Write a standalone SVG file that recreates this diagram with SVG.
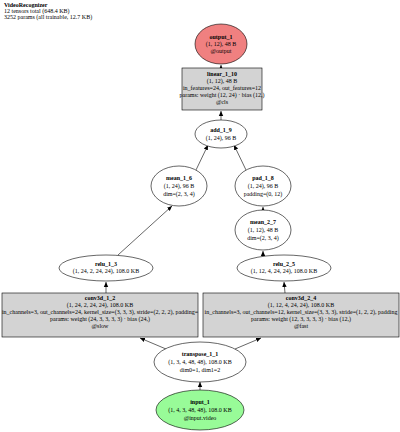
<svg xmlns="http://www.w3.org/2000/svg" width="400" height="432" viewBox="0 0 400 432">
<defs>
<marker id="ah" markerWidth="6" markerHeight="6" refX="5" refY="3" orient="auto" markerUnits="userSpaceOnUse">
<path d="M0,0.8 L5,3 L0,5.2 Z" fill="#000"/>
</marker>
<style>
text{font-family:"Liberation Serif","Times New Roman",serif;font-size:6px;fill:#000;text-anchor:middle}
.b{font-weight:bold}
.hd{text-anchor:start}
.el{fill:#fff;stroke:#000;stroke-width:0.6}
.bx{fill:#d3d3d3;stroke:#000;stroke-width:0.6}
.e{stroke:#000;stroke-width:0.6;fill:none;marker-end:url(#ah)}
</style>
</defs>
<rect width="400" height="432" fill="#fff"/>
<g id="header">
<text class="hd b" x="4" y="7">VideoRecognizer</text>
<text class="hd" x="4" y="13">12 tensors total (648.4 KB)</text>
<text class="hd" x="4" y="19">3252 params (all trainable, 12.7 KB)</text>
</g>
<g id="edges">
<line class="e" x1="200" y1="390" x2="200" y2="382"/>
<line class="e" x1="166" y1="349" x2="140" y2="338"/>
<line class="e" x1="235" y1="349" x2="261" y2="338"/>
<line class="e" x1="106" y1="293" x2="106" y2="282"/>
<line class="e" x1="285" y1="293" x2="284" y2="282"/>
<line class="e" x1="118" y1="255" x2="172" y2="206"/>
<line class="e" x1="263" y1="255" x2="263" y2="251"/>
<line class="e" x1="263" y1="210" x2="263" y2="207"/>
<line class="e" x1="196" y1="170" x2="208" y2="145"/>
<line class="e" x1="246" y1="170" x2="234" y2="145"/>
<line class="e" x1="221" y1="120" x2="221" y2="111"/>
<line class="e" x1="221" y1="68" x2="221" y2="65"/>
</g>
<g id="output_1">
<ellipse cx="221" cy="44" rx="26" ry="20" fill="#f08080" stroke="#000" stroke-width="0.6"/>
<text class="b" x="221" y="39">output_1</text>
<text x="221" y="46">(1, 12), 48 B</text>
<text x="221" y="53">@output</text>
</g>
<g id="linear_1_10">
<rect class="bx" x="182" y="68" width="80" height="42"/>
<text class="b" x="222" y="76">linear_1_10</text>
<text x="222" y="83">(1, 12), 48 B</text>
<text x="222" y="90">in_features=24, out_features=12</text>
<text x="222" y="97">params: weight (12, 24) · bias (12,)</text>
<text x="222" y="104">@cls</text>
</g>
<g id="add_1_9">
<ellipse class="el" cx="221" cy="134" rx="26" ry="14"/>
<text class="b" x="221" y="132">add_1_9</text>
<text x="221" y="140">(1, 24), 96 B</text>
</g>
<g id="mean_1_6">
<ellipse class="el" cx="179" cy="186" rx="28" ry="20"/>
<text class="b" x="179" y="180">mean_1_6</text>
<text x="179" y="188">(1, 24), 96 B</text>
<text x="179" y="196">dim=(2, 3, 4)</text>
</g>
<g id="pad_1_8">
<ellipse class="el" cx="263" cy="186" rx="28" ry="20"/>
<text class="b" x="263" y="180">pad_1_8</text>
<text x="263" y="188">(1, 24), 96 B</text>
<text x="263" y="196">padding=(0, 12)</text>
</g>
<g id="mean_2_7">
<ellipse class="el" cx="263" cy="230" rx="28" ry="20"/>
<text class="b" x="263" y="224">mean_2_7</text>
<text x="263" y="232">(1, 12), 48 B</text>
<text x="263" y="240">dim=(2, 3, 4)</text>
</g>
<g id="relu_1_3">
<ellipse class="el" cx="106" cy="268" rx="47" ry="13"/>
<text class="b" x="106" y="266">relu_1_3</text>
<text x="106" y="273">(1, 24, 2, 24, 24), 108.0 KB</text>
</g>
<g id="relu_2_5">
<ellipse class="el" cx="284" cy="268" rx="47" ry="13"/>
<text class="b" x="284" y="266">relu_2_5</text>
<text x="284" y="273">(1, 12, 4, 24, 24), 108.0 KB</text>
</g>
<g id="conv3d_1_2">
<rect class="bx" x="2" y="293" width="196" height="44"/>
<text class="b" x="100" y="300">conv3d_1_2</text>
<text x="100" y="307">(1, 24, 2, 24, 24), 108.0 KB</text>
<text x="100" y="314">in_channels=3, out_channels=24, kernel_size=(3, 3, 3), stride=(2, 2, 2), padding=</text>
<text x="100" y="321">params: weight (24, 3, 3, 3, 3) · bias (24,)</text>
<text x="100" y="328">@slow</text>
</g>
<g id="conv3d_2_4">
<rect class="bx" x="203" y="293" width="196" height="44"/>
<text class="b" x="301" y="300">conv3d_2_4</text>
<text x="301" y="307">(1, 12, 4, 24, 24), 108.0 KB</text>
<text x="301" y="314">in_channels=3, out_channels=12, kernel_size=(3, 3, 3), stride=(1, 2, 2), padding</text>
<text x="301" y="321">params: weight (12, 3, 3, 3, 3) · bias (12,)</text>
<text x="301" y="328">@fast</text>
</g>
<g id="transpose_1_1">
<ellipse class="el" cx="200" cy="362" rx="46" ry="20"/>
<text class="b" x="200" y="356">transpose_1_1</text>
<text x="200" y="364">(1, 3, 4, 48, 48), 108.0 KB</text>
<text x="200" y="372">dim0=1, dim1=2</text>
</g>
<g id="input_1">
<ellipse cx="200" cy="410" rx="44" ry="20" fill="#98fb98" stroke="#000" stroke-width="0.6"/>
<text class="b" x="200" y="404">input_1</text>
<text x="200" y="412">(1, 4, 3, 48, 48), 108.0 KB</text>
<text x="200" y="420">@input.video</text>
</g>
</svg>
